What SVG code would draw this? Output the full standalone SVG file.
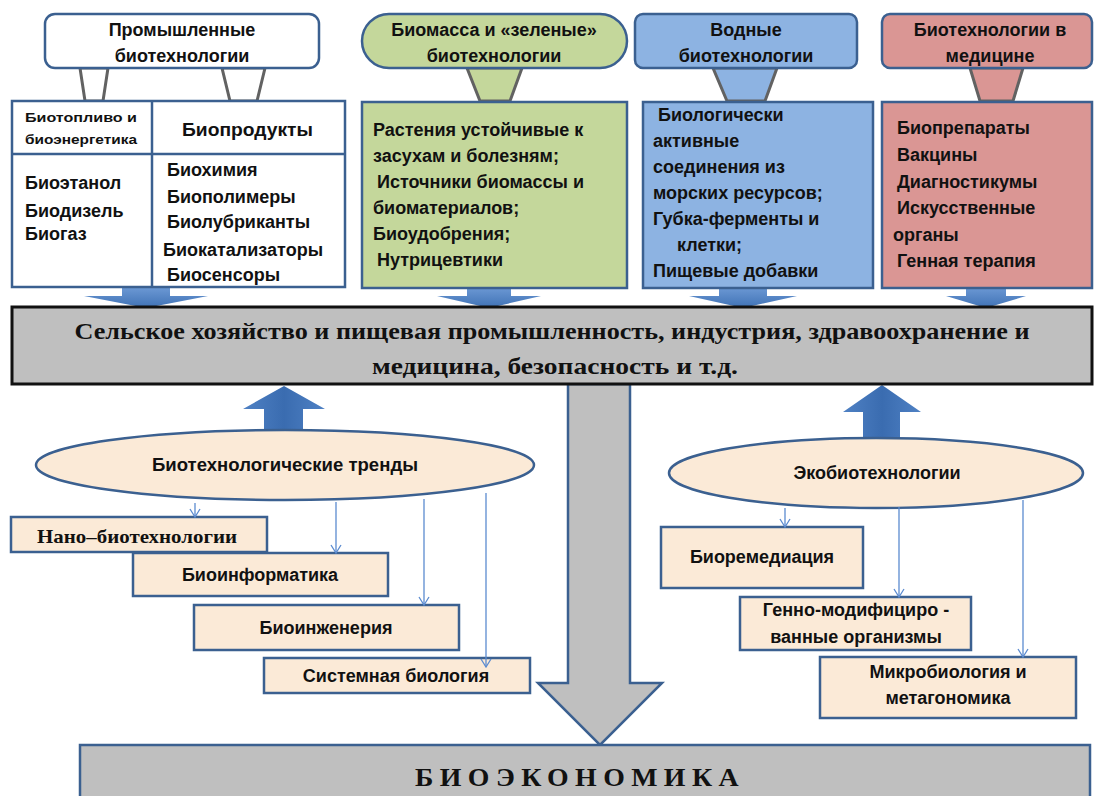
<svg xmlns="http://www.w3.org/2000/svg" width="1096" height="796" viewBox="0 0 1096 796">
<defs>
<linearGradient id="gBlue" x1="0" y1="0" x2="0" y2="1">
<stop offset="0" stop-color="#6F9BD6"/><stop offset="1" stop-color="#3F72B5"/>
</linearGradient>
<linearGradient id="gUp" x1="0" y1="0" x2="1" y2="0">
<stop offset="0" stop-color="#4F81C4"/><stop offset="0.5" stop-color="#3A6CB0"/><stop offset="1" stop-color="#4F81C4"/>
</linearGradient>
<marker id="vh" markerWidth="12" markerHeight="12" refX="11" refY="6" orient="auto" markerUnits="userSpaceOnUse" viewBox="0 0 12 12">
<path d="M3,1 L11,6 L3,11" fill="none" stroke="#5B8BD0" stroke-width="1.3"/>
</marker>
</defs>
<style>
.t{font-family:"Liberation Sans",Arial,sans-serif;font-weight:bold;font-size:18px;fill:#111}
.c{text-anchor:middle}
.s{font-family:"Liberation Serif","Times New Roman",serif;font-weight:bold;fill:#111}
.box{stroke:#3B6090;stroke-width:2.5}
.peach{fill:#FBEAD7;stroke:#3B6090;stroke-width:2.5}
.trap{stroke:#626262;stroke-width:3}
.thin{stroke:#5B8BD0;stroke-width:1.3;fill:none;marker-end:url(#vh)}
.blu{fill:url(#gBlue)}
</style>
<rect width="1096" height="796" fill="#fff"/>

<g id="connectors">
<polygon class="trap" fill="#fff" points="80,68 108,68 103,101 85,101"/>
<polygon class="trap" fill="#fff" points="222,68 265,68 257,101 230,101"/>
<polygon class="trap" fill="#C4D79B" points="467,68 522,68 510,101 480,101"/>
<polygon class="trap" fill="#8DB3E2" points="713,68 777,68 765,101 727,101"/>
<polygon class="trap" fill="#DA9694" points="970,68 1023,68 1013,101 980,101"/>
<polygon class="blu" points="122,286 170,286 170,296 208,296 146,308 84,296 122,296"/>
<polygon class="blu" points="467,286 511,286 511,296 541,296 489,308 437,296 467,296"/>
<polygon class="blu" points="719,286 767,286 767,296 797,296 743,308 689,296 719,296"/>
<polygon class="blu" points="966,286 1006,286 1006,296 1026,296 986,308 946,296 966,296"/>
<polygon fill="url(#gUp)" points="264,434 303,434 303,409 325,409 284,386 243,409 264,409"/>
<polygon fill="url(#gUp)" points="863,440 900,440 900,412 921,412 882,385 843,412 863,412"/>
<polygon fill="#BFBFBF" stroke="#3B6090" stroke-width="2.5" points="568,384 630,384 630,683 662,683 600,745 538,683 568,683"/>
</g>

<g id="hdr-industrial">
<rect x="45" y="14" width="274" height="54" rx="10" fill="#fff" class="box"/>
<text class="t c" x="182" y="36">Промышленные</text>
<text class="t c" x="182" y="62">биотехнологии</text>
</g>
<g id="table-industrial">
<rect x="12" y="101" width="333" height="186" fill="#fff" class="box"/>
<line x1="12" y1="154" x2="345" y2="154" class="box"/>
<line x1="152" y1="101" x2="152" y2="287" class="box"/>
<text class="t" x="25" y="122" style="font-size:12px;font-weight:900" textLength="112" lengthAdjust="spacingAndGlyphs">Биотопливо и</text>
<text class="t" x="25" y="144" style="font-size:12px;font-weight:900" textLength="112" lengthAdjust="spacingAndGlyphs">биоэнергетика</text>
<text class="t" x="182" y="136" textLength="131" lengthAdjust="spacingAndGlyphs">Биопродукты</text>
<text class="t" x="25" y="189">Биоэтанол</text>
<text class="t" x="25" y="217">Биодизель</text>
<text class="t" x="25" y="240">Биогаз</text>
<text class="t" x="167" y="176">Биохимия</text>
<text class="t" x="167" y="203">Биополимеры</text>
<text class="t" x="167" y="228">Биолубриканты</text>
<text class="t" x="163" y="256">Биокатализаторы</text>
<text class="t" x="167" y="281">Биосенсоры</text>
</g>

<g id="hdr-green">
<rect x="362" y="14" width="265" height="54" rx="27" fill="#C4D79B" class="box"/>
<text class="t c" x="494" y="36">Биомасса и «зеленые»</text>
<text class="t c" x="494" y="62">биотехнологии</text>
</g>
<g id="box-green">
<rect x="362" y="102" width="265" height="186" fill="#C4D79B" class="box"/>
<text class="t" x="373" y="136">Растения устойчивые к</text>
<text class="t" x="373" y="162">засухам и болезням;</text>
<text class="t" x="377" y="188">Источники биомассы и</text>
<text class="t" x="373" y="214">биоматериалов;</text>
<text class="t" x="373" y="240">Биоудобрения;</text>
<text class="t" x="377" y="266">Нутрицевтики</text>
</g>

<g id="hdr-water">
<rect x="635" y="14" width="222" height="54" rx="8" fill="#8DB3E2" class="box"/>
<text class="t c" x="746" y="36">Водные</text>
<text class="t c" x="746" y="62">биотехнологии</text>
</g>
<g id="box-water">
<rect x="643" y="102" width="230" height="186" fill="#8DB3E2" class="box"/>
<text class="t" x="658" y="121">Биологически</text>
<text class="t" x="653" y="147">активные</text>
<text class="t" x="653" y="173">соединения из</text>
<text class="t" x="653" y="199">морских ресурсов;</text>
<text class="t" x="653" y="225">Губка-ферменты и</text>
<text class="t" x="677" y="251">клетки;</text>
<text class="t" x="653" y="277">Пищевые добавки</text>
</g>

<g id="hdr-med">
<rect x="882" y="14" width="210" height="54" rx="8" fill="#DA9694" class="box"/>
<text class="t c" x="990" y="36">Биотехнологии  в</text>
<text class="t c" x="990" y="62">медицине</text>
</g>
<g id="box-med">
<rect x="882" y="102" width="210" height="186" fill="#DA9694" class="box"/>
<text class="t" x="897" y="134">Биопрепараты</text>
<text class="t" x="897" y="161">Вакцины</text>
<text class="t" x="897" y="188">Диагностикумы</text>
<text class="t" x="897" y="214">Искусственные</text>
<text class="t" x="893" y="241">органы</text>
<text class="t" x="897" y="267">Генная терапия</text>
</g>

<g id="bar-sectors">
<rect x="12" y="307" width="1080" height="77" fill="#BFBFBF" stroke="#111" stroke-width="3"/>
<text class="s c" x="552" y="339" style="font-size:24px" textLength="955" lengthAdjust="spacingAndGlyphs">Сельское хозяйство и пищевая промышленность, индустрия, здравоохранение и</text>
<text class="s c" x="555" y="374" style="font-size:24px" textLength="366" lengthAdjust="spacingAndGlyphs">медицина,  безопасность и т.д.</text>
</g>

<g id="trends">
<ellipse cx="285" cy="465" rx="249" ry="35" class="peach"/>
<text class="t c" x="285" y="471" textLength="266" lengthAdjust="spacingAndGlyphs">Биотехнологические тренды</text>
</g>
<g id="nano">
<rect x="11" y="517" width="256" height="35" class="peach"/>
<text class="s c" x="137" y="543" style="font-size:19px" textLength="200" lengthAdjust="spacingAndGlyphs">Нано–биотехнологии</text>
</g>
<g id="bioinf">
<rect x="133" y="553" width="255" height="43" class="peach"/>
<text class="t c" x="260" y="581">Биоинформатика</text>
</g>
<g id="bioeng">
<rect x="194" y="605" width="265" height="45" class="peach"/>
<text class="t c" x="326" y="634">Биоинженерия</text>
</g>
<g id="sysbio">
<rect x="264" y="658" width="266" height="35" class="peach"/>
<text class="t c" x="396" y="682">Системная  биология</text>
</g>

<g id="eco">
<ellipse cx="876" cy="473" rx="207" ry="35" class="peach"/>
<text class="t c" x="877" y="479">Экобиотехнологии</text>
</g>
<g id="bioremed">
<rect x="661" y="527" width="202" height="61" class="peach"/>
<text class="t c" x="762" y="563">Биоремедиация</text>
</g>
<g id="gmo">
<rect x="740" y="597" width="231" height="53" class="peach"/>
<text class="t c" x="856" y="616">Генно-модифициро  -</text>
<text class="t c" x="856" y="643">ванные  организмы</text>
</g>
<g id="micro">
<rect x="820" y="657" width="256" height="61" class="peach"/>
<text class="t c" x="948" y="678">Микробиология и</text>
<text class="t c" x="948" y="704">метагономика</text>
</g>

<g id="bioeconomy">
<rect x="80" y="745" width="1010" height="60" fill="#BFBFBF" stroke="#3B6090" stroke-width="2.5"/>
<text class="s c" x="580" y="786" style="font-size:26px;letter-spacing:6px" textLength="330" lengthAdjust="spacingAndGlyphs">БИОЭКОНОМИКА</text>
</g>

<g id="connectors-thin">
<line class="thin" x1="195" y1="503" x2="195" y2="517"/>
<line class="thin" x1="336" y1="502" x2="336" y2="553"/>
<line class="thin" x1="424" y1="499" x2="424" y2="605"/>
<line class="thin" x1="486" y1="493" x2="486" y2="667"/>
<line class="thin" x1="785" y1="508" x2="785" y2="527"/>
<line class="thin" x1="899" y1="507" x2="899" y2="597"/>
<line class="thin" x1="1023" y1="500" x2="1023" y2="657"/>
</g>
</svg>
